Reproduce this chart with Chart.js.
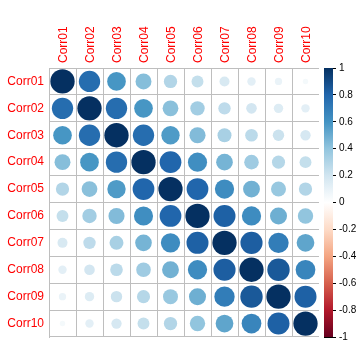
<!DOCTYPE html>
<html>
<head>
<meta charset="utf-8">
<script src="https://cdn.jsdelivr.net/npm/chart.js@4"></script>
<style>
  html, body { margin: 0; padding: 0; background: #fff; }
  #wrap { width: 360px; height: 360px; }
</style>
</head>
<body>
<div id="wrap"><canvas id="corrChart" width="360" height="360"></canvas></div>
<script>
const varNames = ['Corr01', 'Corr02', 'Corr03', 'Corr04', 'Corr05', 'Corr06', 'Corr07', 'Corr08', 'Corr09', 'Corr10'];

// one row of the correlation matrix per variable
const corr01 = [1.00, 0.77, 0.59, 0.43, 0.30, 0.24, 0.17, 0.12, 0.09, 0.05];
const corr02 = [0.77, 1.00, 0.77, 0.59, 0.42, 0.35, 0.26, 0.19, 0.15, 0.12];
const corr03 = [0.59, 0.77, 1.00, 0.77, 0.57, 0.44, 0.33, 0.27, 0.22, 0.18];
const corr04 = [0.43, 0.59, 0.77, 1.00, 0.80, 0.62, 0.47, 0.36, 0.29, 0.24];
const corr05 = [0.30, 0.42, 0.57, 0.80, 1.00, 0.80, 0.63, 0.48, 0.38, 0.30];
const corr06 = [0.24, 0.35, 0.44, 0.62, 0.80, 1.00, 0.82, 0.63, 0.49, 0.40];
const corr07 = [0.17, 0.26, 0.33, 0.47, 0.63, 0.82, 1.00, 0.83, 0.70, 0.53];
const corr08 = [0.12, 0.19, 0.27, 0.36, 0.48, 0.63, 0.83, 1.00, 0.85, 0.66];
const corr09 = [0.09, 0.15, 0.22, 0.29, 0.38, 0.49, 0.70, 0.85, 1.00, 0.82];
const corr10 = [0.05, 0.12, 0.18, 0.24, 0.30, 0.40, 0.53, 0.66, 0.82, 1.00];
const corrRows = [corr01, corr02, corr03, corr04, corr05, corr06, corr07, corr08, corr09, corr10];

// colour legend ticks
const legendMin = -1;
const legendMax = 1;
const legendStep = 0.2;

// RdBu palette, from -1 to 1
const palette = ['#67001F', '#B2182B', '#D6604D', '#F4A582', '#FDDBC7', '#FFFFFF',
                 '#D1E5F0', '#92C5DE', '#4393C3', '#2166AC', '#053061'];

function hexToRgb(h) {
    return [parseInt(h.slice(1, 3), 16), parseInt(h.slice(3, 5), 16), parseInt(h.slice(5, 7), 16)];
}

function corrColor(v) {
    const t = (v + 1) / 2 * (palette.length - 1);
    const i = Math.min(Math.floor(t), palette.length - 2);
    const f = t - i;
    const a = hexToRgb(palette[i]), b = hexToRgb(palette[i + 1]);
    const c = a.map((x, k) => Math.round(x + (b[k] - x) * f));
    return `rgb(${c[0]},${c[1]},${c[2]})`;
}

function circleRadius(ctx) {
    const cell = ctx.chart.scales.x.width / varNames.length;
    return 0.9 * Math.sqrt(Math.abs(ctx.raw.v)) * cell / 2;
}

const points = [];
corrRows.forEach((row, r) => {
    row.forEach((v, c) => {
        points.push({ x: varNames[c], y: varNames[r], v: v });
    });
});

// colour bar drawn next to the legend axis
const colorBarPlugin = {
    id: 'colorBar',
    afterDraw(chart) {
        const s = chart.scales.cb;
        const ctx = chart.ctx;
        const top = s.getPixelForValue(legendMax);
        const bottom = s.getPixelForValue(legendMin);
        const left = s.left + 5;
        const w = 9;
        ctx.save();
        ctx.fillStyle = '#fff';
        ctx.fillRect(s.left, top - 1, 5, bottom - top + 2);
        const g = ctx.createLinearGradient(0, bottom, 0, top);
        palette.forEach((col, i) => g.addColorStop(i / (palette.length - 1), col));
        ctx.fillStyle = g;
        ctx.fillRect(left, top, w, bottom - top);
        ctx.restore();
    }
};

const gridCol = '#BEBEBE';

new Chart(document.getElementById('corrChart'), {
    type: 'scatter',
    data: {
        datasets: [{
            data: points,
            pointRadius: circleRadius,
            pointHoverRadius: circleRadius,
            pointBackgroundColor: ctx => corrColor(ctx.raw.v),
            pointBorderWidth: 0,
            pointBorderColor: 'rgba(0,0,0,0)'
        }]
    },
    options: {
        responsive: false,
        animation: false,
        layout: { padding: { left: 0, right: 0, top: 0, bottom: 23 } },
        plugins: {
            legend: { display: false },
            tooltip: { enabled: false }
        },
        scales: {
            x: {
                type: 'category',
                labels: varNames,
                position: 'top',
                offset: true,
                grid: { offset: true, color: gridCol, drawTicks: false },
                border: { color: gridCol },
                ticks: {
                    color: '#FF0000',
                    font: { family: 'Liberation Sans', size: 12 },
                    minRotation: 90,
                    maxRotation: 90,
                    labelOffset: 16,
                    padding: 5
                },
                afterFit: s => { s.height = 68; }
            },
            y: {
                type: 'category',
                labels: varNames,
                position: 'left',
                offset: true,
                grid: { offset: true, color: gridCol, drawTicks: false },
                border: { color: gridCol },
                ticks: {
                    color: '#FF0000',
                    font: { family: 'Liberation Sans', size: 12 },
                    padding: 5
                },
                afterFit: s => { s.width = 49; }
            },
            cb: {
                type: 'linear',
                position: 'right',
                min: legendMin,
                max: legendMax,
                grid: { drawOnChartArea: false, color: '#000', tickLength: 17, tickWidth: 1 },
                border: { display: false },
                ticks: {
                    stepSize: legendStep,
                    color: '#000',
                    font: { family: 'Liberation Sans', size: 10 },
                    padding: 3,
                    callback: v => String(Number(v.toFixed(1)))
                },
                afterFit: s => { s.width = 41; }
            }
        }
    },
    plugins: [colorBarPlugin]
});
</script>
</body>
</html>
